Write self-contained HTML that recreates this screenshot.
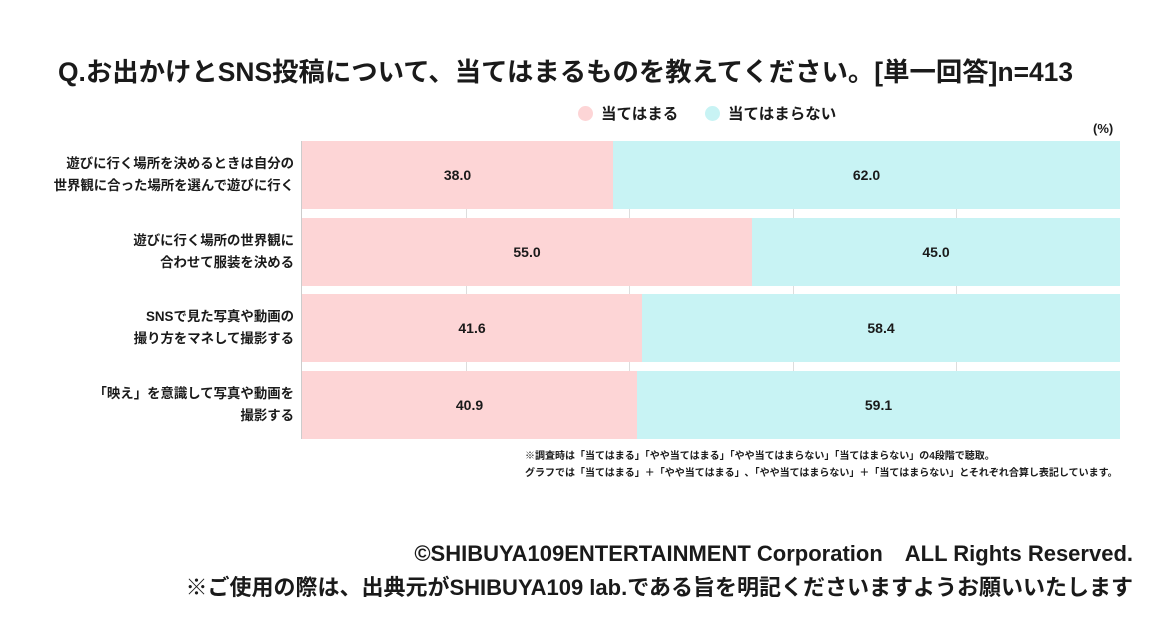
<!DOCTYPE html>
<html><head><meta charset="utf-8"><style>
body{margin:0;width:1160px;height:630px;background:#fff;font-family:"Liberation Sans","Noto Sans CJK JP",sans-serif;color:#1a1a1a;position:relative;overflow:hidden}
.a{position:absolute;white-space:nowrap}
.title{left:58px;top:50px;font-size:26.4px;font-weight:bold}
.leg{top:102px;font-size:15.5px;font-weight:bold}
.dot{display:inline-block;width:15px;height:15px;border-radius:50%;vertical-align:-2px;margin-right:8px}
.bar{position:absolute;left:302px;width:818px;height:68px;display:flex}
.p{background:#fdd5d6;display:flex;align-items:center;justify-content:center;font-weight:bold;font-size:14px}
.c{background:#c8f3f4;display:flex;align-items:center;justify-content:center;font-weight:bold;font-size:14px;flex:1}
.lab{right:866px;text-align:right;font-size:13.4px;font-weight:bold;line-height:22px}
.g{position:absolute;top:141px;height:298px;width:1px;background:#ddd}
.note{font-size:10px;font-weight:bold;left:525px}
.foot{right:27px;font-size:22px;font-weight:bold}
</style></head><body>
<div class="a title">Q.お出かけとSNS投稿について、当てはまるものを教えてください。[単一回答]n=413</div>
<div class="a leg" style="left:578px"><span class="dot" style="background:#fdd5d6"></span>当てはまる</div>
<div class="a leg" style="left:705px"><span class="dot" style="background:#c8f3f4"></span>当てはまらない</div>
<div class="a" style="left:1093px;top:121px;font-size:13px;font-weight:bold">(%)</div>
<div class="g" style="left:301px;background:#ccc"></div>
<div class="g" style="left:466px"></div><div class="g" style="left:629px"></div><div class="g" style="left:793px"></div><div class="g" style="left:956px"></div>
<div class="bar" style="top:141px"><div class="p" style="width:311px">38.0</div><div class="c">62.0</div></div>
<div class="bar" style="top:218px"><div class="p" style="width:450px">55.0</div><div class="c">45.0</div></div>
<div class="bar" style="top:294px"><div class="p" style="width:340px">41.6</div><div class="c">58.4</div></div>
<div class="bar" style="top:371px"><div class="p" style="width:335px">40.9</div><div class="c">59.1</div></div>
<div class="a lab" style="top:153px">遊びに行く場所を決めるときは自分の<br>世界観に合った場所を選んで遊びに行く</div>
<div class="a lab" style="top:230px">遊びに行く場所の世界観に<br>合わせて服装を決める</div>
<div class="a lab" style="top:306px">SNSで見た写真や動画の<br>撮り方をマネして撮影する</div>
<div class="a lab" style="top:383px">「映え」を意識して写真や動画を<br>撮影する</div>
<div class="a note" style="top:447px">※調査時は「当てはまる」「やや当てはまる」「やや当てはまらない」「当てはまらない」の4段階で聴取。</div>
<div class="a note" style="top:464px">グラフでは「当てはまる」＋「やや当てはまる」､「やや当てはまらない」＋「当てはまらない」とそれぞれ合算し表記しています。</div>
<div class="a foot" style="top:536px">©SHIBUYA109ENTERTAINMENT Corporation　ALL Rights Reserved.</div>
<div class="a foot" style="top:570px">※ご使用の際は、出典元がSHIBUYA109 lab.である旨を明記くださいますようお願いいたします</div>
</body></html>
